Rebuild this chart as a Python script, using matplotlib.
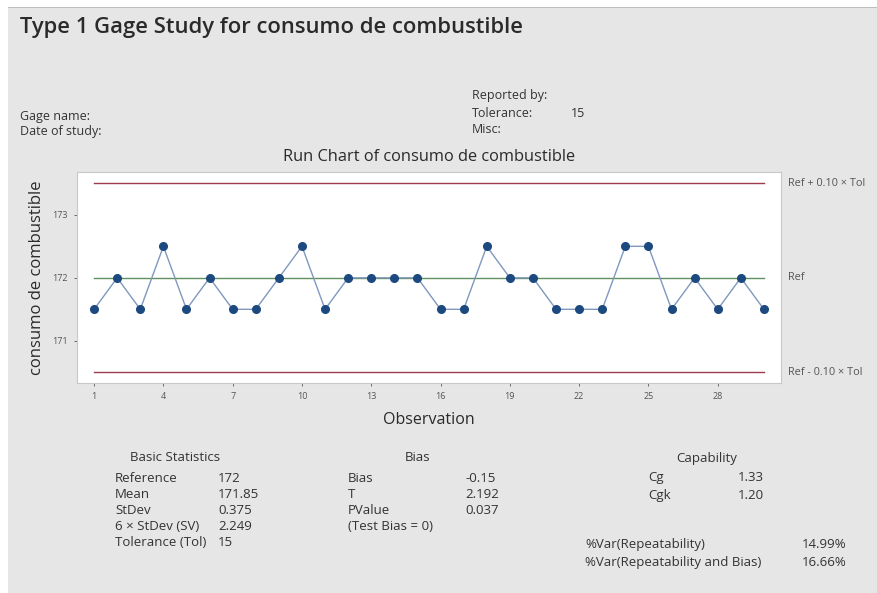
import matplotlib
matplotlib.use("Agg")
import matplotlib.pyplot as plt
from matplotlib.patches import Rectangle

plt.rcParams['font.family'] = ['Open Sans', 'DejaVu Sans']

# Measurements of fuel consumption (consumo de combustible)
observations = list(range(1, 31))
consumo = [171.5, 172.0, 171.5, 172.5, 171.5, 172.0, 171.5, 171.5, 172.0, 172.5,
           171.5, 172.0, 172.0, 172.0, 172.0, 171.5, 171.5, 172.5, 172.0, 172.0,
           171.5, 171.5, 171.5, 172.5, 172.5, 171.5, 172.0, 171.5, 172.0, 171.5]
reference = 172.0
tolerance = 15.0
k_tol = 0.10

x_ticks = [1, 4, 7, 10, 13, 16, 19, 22, 25, 28]
y_ticks = [171, 172, 173]

basic_labels = ["Reference", "Mean", "StDev", "6 \u00d7 StDev (SV)", "Tolerance (Tol)"]
basic_values = ["172", "171.85", "0.375", "2.249", "15"]
bias_labels = ["Bias", "T", "PValue", "(Test Bias = 0)"]
bias_values = ["-0.15", "2.192", "0.037", ""]
cap_labels = ["Cg", "Cgk"]
cap_values = ["1.33", "1.20"]
var_labels = ["%Var(Repeatability)", "%Var(Repeatability and Bias)"]
var_values = ["14.99%", "16.66%"]

W, H = 878, 593
fig = plt.figure(figsize=(W / 100, H / 100), dpi=100)
fig.patch.set_facecolor("white")


def P(x, y):
    return x / W, 1 - y / H


# grey report panel
fig.patches.append(Rectangle(P(8, H), (W - 8) / W, (H - 8) / H, transform=fig.transFigure,
                             facecolor="#e6e6e6", edgecolor="none", zorder=-5))
fig.patches.append(Rectangle(P(8, 8), (W - 8) / W, 1.2 / H, transform=fig.transFigure,
                             facecolor="#bdbdbd", edgecolor="none", zorder=-4))

txt = "#333333"
fig.text(*P(20, 33), "Type 1 Gage Study for consumo de combustible", fontsize=15.8,
         fontweight="semibold", color="#2a2a2a", va="baseline", ha="left")

small = 9.0
fig.text(*P(20, 120), "Gage name:", fontsize=small, color=txt, va="baseline")
fig.text(*P(20, 135), "Date of study:", fontsize=small, color=txt, va="baseline")
fig.text(*P(472, 99), "Reported by:", fontsize=small, color=txt, va="baseline")
fig.text(*P(472, 117), "Tolerance:", fontsize=small, color=txt, va="baseline")
fig.text(*P(571, 117), "15", fontsize=small, color=txt, va="baseline")
fig.text(*P(472, 133), "Misc:", fontsize=small, color=txt, va="baseline")

# run chart
l, b = P(77, 383)
r, t = P(781, 172)
ax = fig.add_axes([l, b, r - l, t - b])
ax.set_facecolor("white")
upper = reference + k_tol * tolerance
lower = reference - k_tol * tolerance
ax.plot([observations[0], observations[-1]], [upper, upper], color="#9e3b4c", lw=1.0, zorder=2)
ax.plot([observations[0], observations[-1]], [lower, lower], color="#9e3b4c", lw=1.0, zorder=2)
ax.plot([observations[0], observations[-1]], [reference, reference], color="#5f915f", lw=1.0, zorder=2)
ax.plot(observations, consumo, color="#7f98bd", lw=1.0, marker="o", markersize=5.5,
        markerfacecolor="#1c4a80", markeredgecolor="#1c4a80", zorder=3)
ax.set_xlim(0.26, 30.74)
ax.set_ylim(170.33, 173.68)
ax.set_xticks(x_ticks)
ax.set_yticks(y_ticks)
ax.tick_params(labelsize=6.5, colors="#555555", length=2.5, width=0.6, pad=4)
for sp in ax.spines.values():
    sp.set_color("#c8c8c8")
    sp.set_linewidth(0.8)
ax.set_title("Run Chart of consumo de combustible", fontsize=11.8, color="#2a2a2a", pad=8)
ax.set_xlabel("Observation", fontsize=11.5, color="#2a2a2a", labelpad=8)
ax.set_ylabel("consumo de combustible", fontsize=12, color="#2a2a2a", labelpad=5)

side = dict(fontsize=7.8, color="#555555", va="center", ha="left", transform=ax.get_yaxis_transform())
ax.text(1.01, upper, "Ref + 0.10 \u00d7 Tol", **side)
ax.text(1.01, reference, "Ref", **side)
ax.text(1.01, lower, "Ref - 0.10 \u00d7 Tol", **side)

# statistics tables
tab = 9.5
row_gap = 16
fig.text(*P(175, 461), "Basic Statistics", fontsize=tab, color=txt, ha="center", va="baseline")
for i, (lab, val) in enumerate(zip(basic_labels, basic_values)):
    y = 482 + i * row_gap
    fig.text(*P(115, y), lab, fontsize=tab, color=txt, va="baseline")
    fig.text(*P(218, y), val, fontsize=tab, color=txt, va="baseline")

fig.text(*P(418, 461), "Bias", fontsize=tab, color=txt, ha="center", va="baseline")
for i, (lab, val) in enumerate(zip(bias_labels, bias_values)):
    y = 482 + i * row_gap
    fig.text(*P(348, y), lab, fontsize=tab, color=txt, va="baseline")
    if val:
        fig.text(*P(465, y), val, fontsize=tab, color=txt, va="baseline")

fig.text(*P(707, 462), "Capability", fontsize=tab, color=txt, ha="center", va="baseline")
for i, (lab, val) in enumerate(zip(cap_labels, cap_values)):
    y = 481 + i * 18
    fig.text(*P(648, y), lab, fontsize=tab, color=txt, va="baseline")
    fig.text(*P(738, y), val, fontsize=tab, color=txt, va="baseline")

for i, (lab, val) in enumerate(zip(var_labels, var_values)):
    y = 548 + i * 18
    fig.text(*P(585, y), lab, fontsize=tab, color=txt, va="baseline")
    fig.text(*P(802, y), val, fontsize=tab, color=txt, va="baseline")

fig.savefig("out.png", dpi=100, facecolor=fig.get_facecolor())
